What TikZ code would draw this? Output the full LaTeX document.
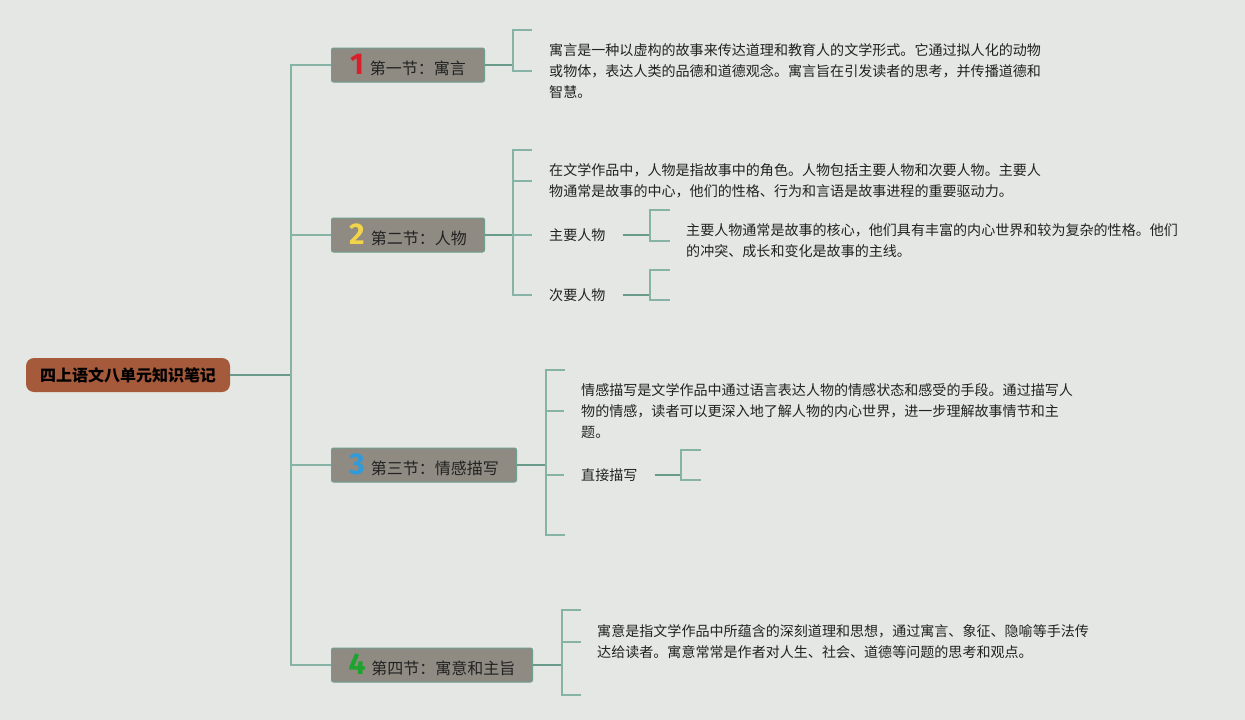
\documentclass[tikz,border=0pt]{standalone}
\usepackage{fontspec}
\setmainfont{Noto Sans CJK SC}
\newfontfamily\numfont{Fira Sans}
\definecolor{bgc}{HTML}{E4E7E3}
\definecolor{rootc}{HTML}{A65A3C}
\definecolor{boxc}{HTML}{8F8B83}
\definecolor{boxline}{HTML}{6F9E8E}
\definecolor{linec}{HTML}{86B3A5}
\definecolor{mainc}{HTML}{6A9A8B}
\definecolor{txt}{HTML}{222222}
\definecolor{n1}{HTML}{D8202A}
\definecolor{n2}{HTML}{F2D44A}
\definecolor{n3}{HTML}{2E9BDB}
\definecolor{n4}{HTML}{1FA22E}
\newcommand{\secnum}[2]{{\numfont\bfseries\fontsize{30}{30}\selectfont\color{#1}#2}\hspace{6pt}}
\tikzset{
  rootbox/.style={fill=rootc, rounded corners=8pt, minimum width=204pt, minimum height=34pt, inner sep=0pt, text=black, font=\bfseries\fontsize{16}{16}\selectfont},
  secbox/.style={fill=boxc, draw=boxline, line width=1pt, rounded corners=2pt, minimum height=34pt, inner sep=0pt, anchor=west, text=txt, font=\fontsize{16}{16}\selectfont},
  para/.style={anchor=west, align=left, inner xsep=17pt, inner ysep=0pt, text=txt, font=\fontsize{14.05}{20.8}\selectfont},
  mainline/.style={draw=mainc, line width=1.8pt},
  brline/.style={draw=linec, line width=1.4pt},
}
\begin{document}
\begin{tikzpicture}[x=1pt,y=-1pt]
\fill[bgc] (0,0) rectangle (1245,720);
\useasboundingbox (0,0) rectangle (1245,720);

% root
\node[rootbox] (root) at (128,375) {四上语文八单元知识笔记};
\coordinate (t0) at (291,375);

% sections
\node[secbox, minimum width=153pt] (s1) at (331,65) {\secnum{n1}{1}第一节：寓言};
\node[secbox, minimum width=153pt] (s2) at (331,235) {\secnum{n2}{2}第二节：人物};
\node[secbox, minimum width=185pt] (s3) at (331,465) {\secnum{n3}{3}第三节：情感描写};
\node[secbox, minimum width=201pt] (s4) at (331,665) {\secnum{n4}{4}第四节：寓意和主旨};

% trunk
\draw[mainline] (root.east) -- (t0);
\draw[brline] (s1.west) -| (t0) |- (s4.west);
\draw[brline] (t0) |- (s2.west);
\draw[brline] (t0) |- (s3.west);

% section 1
\coordinate (j1) at (513,65);
\coordinate (c1a) at (532,30);
\node[para] (p1) at (532,71) {寓言是一种以虚构的故事来传达道理和教育人的文学形式。它通过拟人化的动物\\或物体，表达人类的品德和道德观念。寓言旨在引发读者的思考，并传播道德和\\智慧。};
\draw[mainline] (s1.east) -- (j1);
\draw[brline] (c1a) -| (j1) |- (p1.west);

% section 2
\coordinate (j2) at (513,235);
\coordinate (c2a) at (532,150);
\node[para] (p2) at (532,181) {在文学作品中，人物是指故事中的角色。人物包括主要人物和次要人物。主要人\\物通常是故事的中心，他们的性格、行为和言语是故事进程的重要驱动力。};
\node[para, inner xsep=17pt] (m1) at (532,235) {主要人物};
\node[para, inner xsep=17pt] (m2) at (532,295) {次要人物};
\draw[mainline] (s2.east) -- (j2);
\draw[brline] (c2a) -| (j2) |- (m2.west);
\draw[brline] (j2) |- (p2.west);
\draw[brline] (j2) -- (m1.west);

\coordinate (k1) at (650,235);
\coordinate (k1a) at (670,210);
\node[para, inner xsep=16pt] (m1d) at (670,241) {主要人物通常是故事的核心，他们具有丰富的内心世界和较为复杂的性格。他们\\的冲突、成长和变化是故事的主线。};
\draw[mainline] (m1.east) -- (k1);
\draw[brline] (k1a) -| (k1) |- (m1d.west);

\coordinate (k2) at (650,295);
\coordinate (k2a) at (670,270);
\coordinate (k2b) at (670,300);
\draw[mainline] (m2.east) -- (k2);
\draw[brline] (k2a) -| (k2) |- (k2b);

% section 3
\coordinate (j3) at (546,465);
\coordinate (c3a) at (565,370);
\coordinate (c3b) at (565,535);
\node[para] (p3) at (564,411) {情感描写是文学作品中通过语言表达人物的情感状态和感受的手段。通过描写人\\物的情感，读者可以更深入地了解人物的内心世界，进一步理解故事情节和主\\题。};
\node[para] (d3) at (564,475) {直接描写};
\draw[mainline] (s3.east) -- (j3);
\draw[brline] (c3a) -| (j3) |- (c3b);
\draw[brline] (j3) |- (p3.west);
\draw[brline] (j3) |- (d3.west);

\coordinate (k3) at (681,475);
\coordinate (k3a) at (701,450);
\coordinate (k3b) at (701,480);
\draw[mainline] (d3.east) -- (k3);
\draw[brline] (k3a) -| (k3) |- (k3b);

% section 4
\coordinate (j4) at (562,665);
\coordinate (c4a) at (581,610);
\coordinate (c4b) at (581,695);
\node[para, inner xsep=16pt] (p4) at (581,642) {寓意是指文学作品中所蕴含的深刻道理和思想，通过寓言、象征、隐喻等手法传\\达给读者。寓意常常是作者对人生、社会、道德等问题的思考和观点。};
\draw[mainline] (s4.east) -- (j4);
\draw[brline] (c4a) -| (j4) |- (c4b);
\draw[brline] (j4) |- (p4.west);
\end{tikzpicture}
\end{document}
